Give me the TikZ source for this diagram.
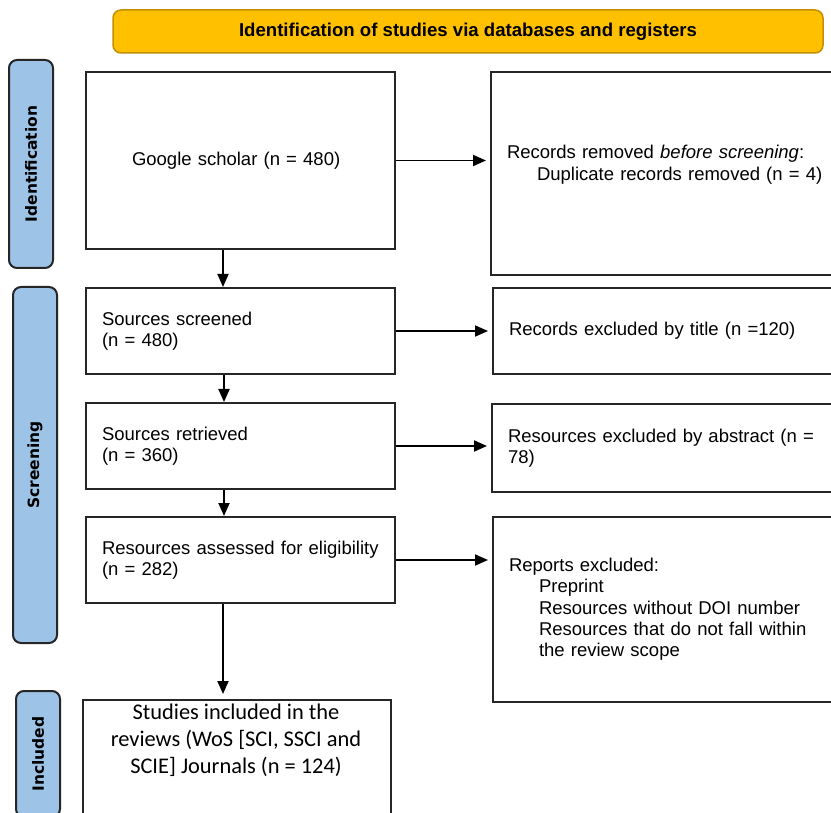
\documentclass[tikz,border=0pt]{standalone}
\usepackage{fontspec}
\setmainfont{Liberation Sans}
\newfontfamily\phasefont{DejaVu Sans}
\newfontfamily\calfont{Carlito}
\usetikzlibrary{arrows.meta}
\definecolor{bannerfill}{HTML}{FFC000}
\definecolor{bannerline}{HTML}{C49000}
\definecolor{phasefill}{HTML}{9DC3E6}
\definecolor{boxline}{HTML}{262626}

\begin{document}
\begin{tikzpicture}[x=1pt,y=-1pt,
  banner/.style={draw=bannerline,line width=1.5pt,fill=bannerfill,rounded corners=8pt,minimum width=710pt,minimum height=43pt,font=\fontsize{18.6}{21}\selectfont\bfseries},
  phase/.style={draw=boxline,line width=2pt,fill=phasefill,rounded corners=8pt,minimum width=44pt,inner sep=0pt,font=\phasefont\fontsize{15.5}{18}\selectfont\bfseries},
  flowbox/.style={draw=boxline,line width=2pt,anchor=north west,align=left,inner ysep=0pt,font=\fontsize{18.5}{21.3}\selectfont},
  leftbox/.style={flowbox,minimum width=309pt,inner xsep=16pt,text width=277pt},
  rightbox/.style={flowbox,minimum width=400pt,inner xsep=16pt,text width=368pt},
  flowarrow/.style={-{Triangle[length=13pt,width=11pt]},line width=1.8pt}]
\useasboundingbox (0,0) rectangle (831,813);
\clip (0,0) rectangle (831,813);
\fill[white] (0,0) rectangle (831,813);

\node[banner] (banner) at (468,31.5) {Identification of studies via databases and registers};

\node[phase,minimum height=208pt] (identlabel) at (31,164) {\rotatebox{90}{Identification}};
\node[phase,minimum height=356pt] (screenlabel) at (35,465) {\rotatebox{90}{Screening}};
\node[phase,minimum height=126pt] (inclabel) at (38,754) {\rotatebox{90}{Included}};

\node[leftbox,minimum height=177pt,inner xsep=46pt,text width=217pt] (google) at (85,71) {Google scholar (n = 480)};
\node[rightbox,minimum height=203pt] (removed) at (490,71) {Records removed \textit{before screening}:\\\hspace*{30pt}Duplicate records removed (n = 4)\\\mbox{}};
\node[leftbox,minimum height=86pt] (screened) at (85,287) {Sources screened\\(n = 480)};
\node[rightbox,minimum height=86pt] (bytitle) at (492,287) {Records excluded by title (n =120)};
\node[leftbox,minimum height=86pt] (retrieved) at (85,402) {Sources retrieved\\(n = 360)};
\node[rightbox,minimum height=88pt] (byabstract) at (491,403) {Resources excluded by abstract (n =\\78)};
\node[leftbox,minimum height=86pt] (assessed) at (85,516) {\mbox{Resources assessed for eligibility}\\(n = 282)};
\node[rightbox,minimum height=185pt] (reports) at (492,516) {Reports excluded:\\\hspace*{30pt}Preprint\\\hspace*{30pt}Resources without DOI number\\\hspace*{30pt}Resources that do not fall within\\\hspace*{30pt}the review scope};
\node[draw=boxline,line width=2pt,anchor=north west,minimum width=308pt,minimum height=140pt] (studies) at (82,699) {};
\node[align=center,font=\calfont\fontsize{22.4}{27}\selectfont] (studiestext) at (236,740) {Studies included in the\\reviews (WoS [SCI, SSCI and\\SCIE] Journals (n = 124)};

\draw[flowarrow,shorten >=4pt] (google) -- (google -| removed.west);
\draw[flowarrow,shorten >=4pt] (screened) -- (screened -| bytitle.west);
\draw[flowarrow,shorten >=4pt] (retrieved) -- (retrieved -| byabstract.west);
\draw[flowarrow,shorten >=4pt] (assessed) -- (assessed -| reports.west);
\draw[flowarrow] ([xshift=-17.5pt]google.south) -- ([xshift=-17.5pt]screened.north);
\draw[flowarrow] ([xshift=-16.5pt]screened.south) -- ([xshift=-16.5pt]retrieved.north);
\draw[flowarrow] ([xshift=-16.5pt]retrieved.south) -- ([xshift=-16.5pt]assessed.north);
\coordinate (incdrop) at ([xshift=-17.5pt]assessed.south);
\draw[flowarrow,shorten >=5pt] (incdrop) -- (incdrop |- studies.north);
\end{tikzpicture}
\end{document}
